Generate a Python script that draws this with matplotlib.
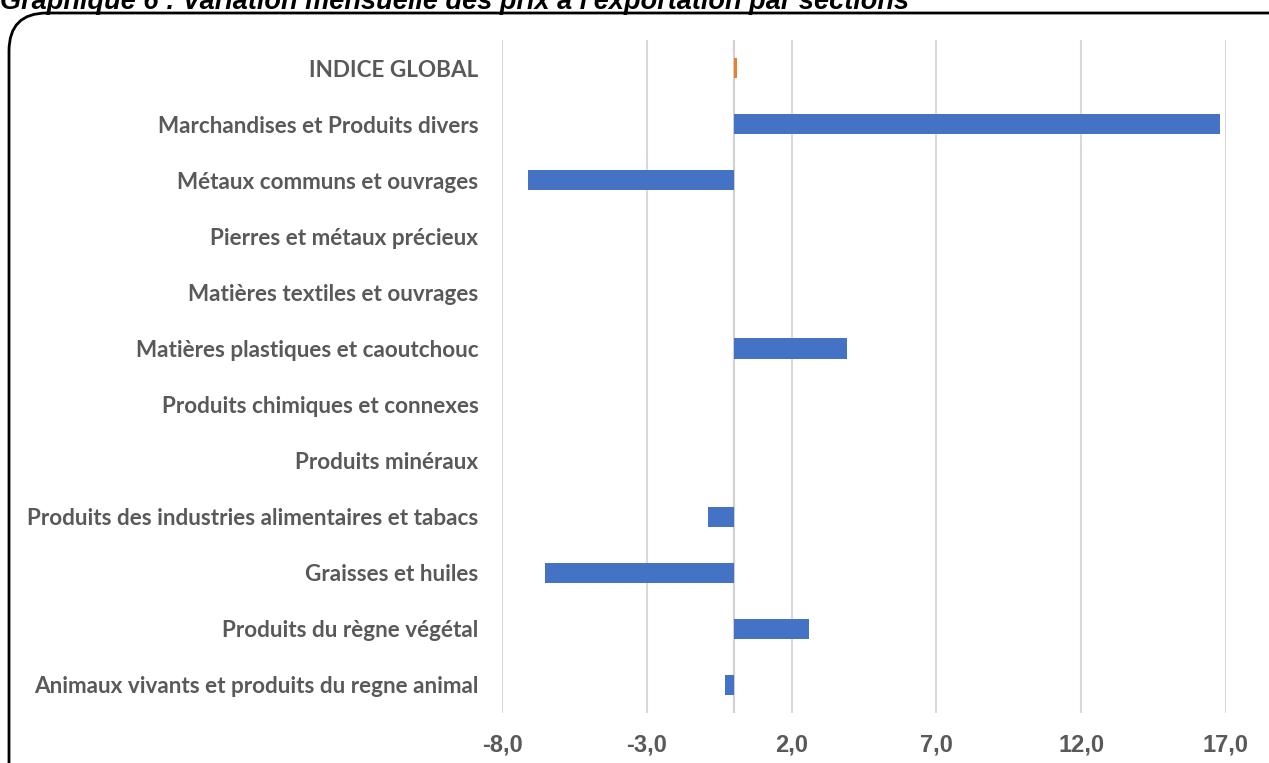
import matplotlib
matplotlib.use('Agg')
import matplotlib.pyplot as plt
from matplotlib.patches import FancyBboxPatch
from matplotlib.transforms import IdentityTransform

# Data (variation mensuelle, %)
categories = [
    'Animaux vivants et produits du regne animal',
    'Produits du règne végétal',
    'Graisses et huiles',
    'Produits des industries alimentaires et tabacs',
    'Produits minéraux',
    'Produits chimiques et connexes',
    'Matières plastiques et caoutchouc',
    'Matières textiles et ouvrages',
    'Pierres et métaux précieux',
    'Métaux communs et ouvrages',
    'Marchandises et Produits divers',
    'INDICE GLOBAL',
]
values = [-0.3, 2.6, -6.5, -0.9, 0.0, 0.0, 3.9, 0.0, 0.0, -7.1, 16.8, 0.1]
colors = ['#4472C4'] * 11 + ['#ED7D31']
xticks = [-8, -3, 2, 7, 12, 17]
title = "Graphique 6 : Variation mensuelle des prix à l'exportation par sections"

fig = plt.figure(figsize=(12.69, 7.63), dpi=100)
ax = fig.add_axes([0.3956, 0.0655, 0.5705, 0.882])

ypos = list(range(len(categories)))
ax.barh(ypos, values, height=0.36, color=colors, zorder=3)
ax.axvline(0, color='#d0d0d0', linewidth=1.5, zorder=2)

ax.set_xlim(-8, 17)
ax.set_ylim(-0.5, len(categories) - 0.5)
ax.set_xticks(xticks)
ax.set_xticklabels([f'{t:.1f}'.replace('.', ',') for t in xticks],
                   fontfamily='Liberation Sans', fontweight='bold',
                   fontsize=17, color='#595959')
ax.set_yticks(ypos)
ax.set_yticklabels(categories, fontfamily='Lato', fontweight='bold',
                   fontsize=16.2, color='#595959')
ax.tick_params(axis='both', length=0)
ax.tick_params(axis='x', pad=15)
ax.tick_params(axis='y', pad=17)
ax.grid(axis='x', color='#d9d9d9', linewidth=1.5, zorder=0)
for s in ax.spines.values():
    s.set_visible(False)

# rounded frame, partly outside the image
frame = FancyBboxPatch((9, -60), 1320, 810,
                       boxstyle='round,pad=0,rounding_size=38',
                       transform=IdentityTransform(), fill=False,
                       edgecolor='black', linewidth=2)
fig.add_artist(frame)

# title sits at the very top edge, partly cut off as in the source
fig.text(0.0, 1 - 9 / 763, title, fontfamily='Liberation Sans',
         fontweight='bold', fontstyle='italic', fontsize=19.5,
         ha='left', va='baseline', color='black')

fig.savefig('out.png', dpi=100)
